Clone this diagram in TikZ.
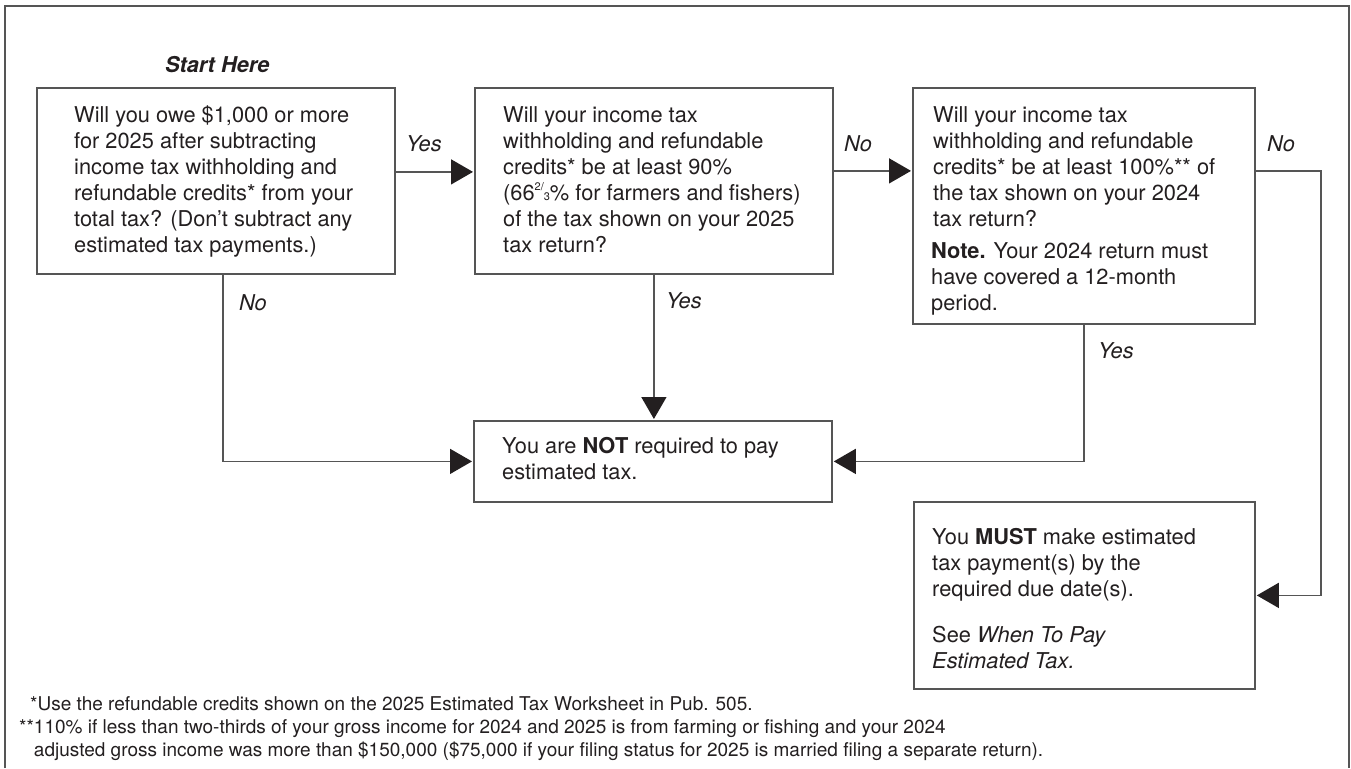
\documentclass[tikz,border=0pt]{standalone}
\usepackage{fontspec}
\setmainfont{TeX Gyre Heros}
\usetikzlibrary{arrows.meta}

\definecolor{linegray}{HTML}{555555}
\definecolor{inkblack}{HTML}{231F20}

\newcommand{\boxfont}{\fontsize{21.8}{26}\selectfont}
\newcommand{\notefont}{\fontsize{19}{23}\selectfont}
\newcommand{\topline}{\rule{0pt}{17pt}}
\newcommand{\twothirds}{\raisebox{0.45em}{\fontsize{11}{11}\selectfont 2/}{\fontsize{11}{11}\selectfont 3}}

\tikzset{
  qbox/.style={draw=linegray, line width=1.8pt, anchor=north west, inner sep=0pt},
  boxtext/.style={anchor=north west, inner sep=0pt, align=left, text=inkblack, font=\boxfont},
  answer/.style={anchor=base west, inner sep=0pt, text=inkblack, font=\boxfont\itshape},
  flow/.style={draw=linegray, line width=1.5pt, shorten >=1pt,
    -{Triangle[length=22pt,width=25pt,color=inkblack]}},
}

\begin{document}
\begin{tikzpicture}[x=1pt,y=-1pt]
  \useasboundingbox (0,0) rectangle (1351,768);
  \draw[draw=linegray, line width=1.5pt] (5,768) -- (5,6) -- (1349,6) -- (1349,768);

  \node[answer, font=\boxfont\bfseries\itshape] (start) at (165,72) {Start Here};

  % boxes
  \node[qbox, minimum width=358pt, minimum height=186pt] (owe) at (36,87) {};
  \node[qbox, minimum width=358pt, minimum height=186pt] (ninety) at (474,87) {};
  \node[qbox, minimum width=342pt, minimum height=236pt] (hundred) at (912,87) {};
  \node[qbox, minimum width=358pt, minimum height=81pt] (notreq) at (473,420) {};
  \node[qbox, minimum width=341pt, minimum height=187pt] (must) at (913,501) {};

  \node[boxtext] (owetext) at ([shift={(38,18)}]owe.north west)
    {\topline Will you owe \$1,000 or more\\ for 2025 after subtracting\\
     income tax withholding and\\ refundable credits* from your\\
     total tax? (Don’t subtract any\\ estimated tax payments.)};
  \node[boxtext] (ninetytext) at ([shift={(29,18)}]ninety.north west)
    {\topline Will your income tax\\ withholding and refundable\\
     credits* be at least 90\%\\ (66\twothirds\% for farmers and fishers)\\
     of the tax shown on your 2025\\ tax return?};
  \node[boxtext] (hundredtext) at ([shift={(21,18)}]hundred.north west)
    {\topline Will your income tax\\ withholding and refundable\\
     credits* be at least 100\%** of\\ the tax shown on your 2024\\
     tax return?\\[6pt]
     \hspace*{-2pt}\textbf{Note.} Your 2024 return must\\
     \hspace*{-2pt}have covered a 12-month\\ \hspace*{-2pt}period.};
  \node[boxtext] (notreqtext) at ([shift={(29,16)}]notreq.north west)
    {\topline You are \textbf{NOT} required to pay\\ estimated tax.};
  \node[boxtext] (musttext) at ([shift={(19,26)}]must.north west)
    {\topline You \textbf{MUST} make estimated\\ tax payment(s) by the\\
     required due date(s).\\[20pt]
     See \textit{When To Pay}\\ \textit{Estimated Tax.}};

  % connectors
  \coordinate (oweyes) at ([yshift=9pt]owe.east);
  \coordinate (ninetyno) at ([yshift=10pt]ninety.east);
  \coordinate (hundredno) at ([yshift=35pt]hundred.east);
  \draw[flow] (oweyes) -- (oweyes -| ninety.west);
  \draw[flow] (ninetyno) -- (ninetyno -| hundred.west);
  \draw[flow] (hundredno) -- ++(65,0) |- (must.east);
  \draw[flow] ([xshift=7pt]owe.south) |- (notreq.west);
  \draw[flow] (ninety.south) -- (ninety.south |- notreq.north);
  \draw[flow] (hundred.south) |- (notreq.east);

  % answers
  \node[answer] (yes1) at (406,151) {Yes};
  \node[answer] (no1) at (844,151) {No};
  \node[answer] (no2) at (1267,151) {No};
  \node[answer] (no3) at (239,310) {No};
  \node[answer] (yes2) at (666,308) {Yes};
  \node[answer] (yes3) at (1098,358) {Yes};

  % footnotes
  \node[anchor=base west, inner sep=0pt, align=left, text=inkblack, font=\notefont] (notes) at (19,756)
    {\hspace*{11pt}*Use the refundable credits shown on the 2025 Estimated Tax Worksheet in Pub. 505.\\
     **110\% if less than two-thirds of your gross income for 2024 and 2025 is from farming or fishing and your 2024\\
     \phantom{**}adjusted gross income was more than \$150,000 (\$75,000 if your filing status for 2025 is married filing a separate return).};
\end{tikzpicture}
\end{document}
